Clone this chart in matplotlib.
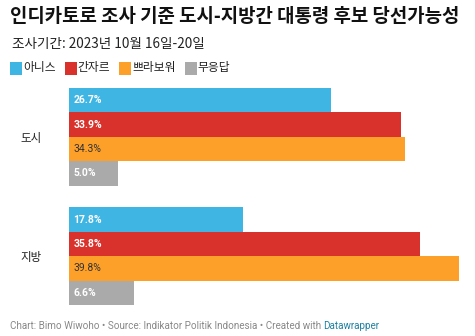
import matplotlib

matplotlib.use("Agg")
import matplotlib.pyplot as plt
from matplotlib.patches import Rectangle
import numpy as np

plt.rcParams["font.family"] = ["Noto Sans CJK KR", "DejaVu Sans"]

title = "인디카토로 조사 기준 도시-지방간 대통령 후보 당선가능성"
subtitle = "조사기간: 2023년 10월 16일-20일"
categories = ["도시", "지방"]
series = ["아니스", "간자르", "쁘라보워", "무응답"]
values = {
    "아니스": [26.7, 17.8],
    "간자르": [33.9, 35.8],
    "쁘라보워": [34.3, 39.8],
    "무응답": [5.0, 6.6],
}
colors = ["#3fb5e3", "#d9312b", "#fca02a", "#aaaaaa"]
label_colors = ["white", "white", "#333333", "white"]
label_weights = ["bold", "bold", "normal", "bold"]
footer = "Chart: Bimo Wiwoho • Source: Indikator Politik Indonesia • Created with "
footer_link = "Datawrapper"

W, H = 475, 336
fig = plt.figure(figsize=(W / 100, H / 100), dpi=100)


def fx(px):
    return px / W


def fy(py):
    return 1 - py / H


ax = fig.add_axes([fx(69), fy(305), fx(390), (305 - 88) / H])

gap = 0.9
n = len(series)
centers = np.arange(len(categories)) * (n + gap)
for j, (name, col) in enumerate(zip(series, colors)):
    ys = centers + (j - (n - 1) / 2)
    ax.barh(ys, values[name], height=1.0, color=col, edgecolor="none")
    for y, v in zip(ys, values[name]):
        ax.text(0.45, y, f"{v:.1f}%", va="center", ha="left", fontsize=7.5,
                color=label_colors[j], fontweight=label_weights[j],
                family=["Roboto", "DejaVu Sans"])

ax.set_xlim(0, 39.8)
ax.set_ylim(centers[-1] + n / 2, centers[0] - n / 2)
ax.set_yticks(centers)
ax.set_yticklabels(categories, fontsize=8.3, color="#222222")
ax.tick_params(axis="y", length=0, pad=20)
ax.set_xticks([])
for s in ax.spines.values():
    s.set_visible(False)

fig.text(fx(10), fy(17), title, fontsize=13.6, fontweight="bold", va="center", ha="left", color="#111111")
fig.text(fx(12), fy(44), subtitle, fontsize=9.8, va="center", ha="left", color="#222222")

# legend row
fig.canvas.draw()
renderer = fig.canvas.get_renderer()
x = 10
for name, col in zip(series, colors):
    fig.patches.append(Rectangle((fx(x), fy(75)), fx(12), 13 / H, transform=fig.transFigure,
                                 facecolor=col, edgecolor="none"))
    t = fig.text(fx(x + 13), fy(68), name, fontsize=8.5, va="center", ha="left", color="#222222")
    w = t.get_window_extent(renderer).width
    x = x + 13 + w + 9

t = fig.text(fx(10), fy(326), footer, fontsize=7.1, va="center", ha="left", color="#888888",
             family=["Roboto", "DejaVu Sans"])
w = t.get_window_extent(renderer).width
fig.text(fx(10) + w / W, fy(326), footer_link, fontsize=7.1, va="center", ha="left",
         color="#1d81a2", family=["Roboto", "DejaVu Sans"])

fig.savefig("out.png", dpi=100)
